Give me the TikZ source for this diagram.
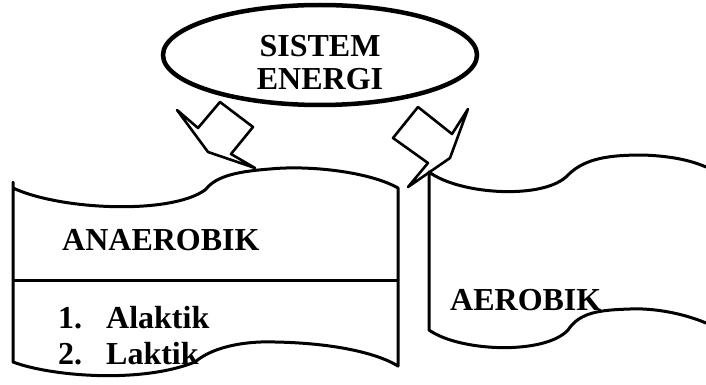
\documentclass[tikz,border=0pt]{standalone}
\usepackage{fontspec}
\setmainfont{Liberation Serif}
\usetikzlibrary{shapes.geometric}
\begin{document}
\begin{tikzpicture}[x=1pt,y=-1pt,
  outl/.style={line width=3pt,line join=round,line cap=round},
  lbl/.style={font=\fontsize{32}{36}\selectfont\bfseries,inner sep=0pt,anchor=base west},
  ctr/.style={font=\fontsize{32}{36}\selectfont\bfseries,inner sep=0pt,anchor=base}]
\useasboundingbox (0,0) rectangle (706,385);
% ellipse
\node[draw,line width=4.5pt,ellipse,minimum width=314pt,minimum height=100pt,inner sep=0pt] (sys) at (320,55) {};
\node[ctr] (t1) at (320,57) {SISTEM};
\node[ctr] (t2) at (320,90) {ENERGI};
% left arrow
\draw[outl,line width=2.6pt] (177,110) -- (198,128) -- (220,102) -- (253,127) -- (231,154) -- (255,168) -- (208,152) -- cycle;
% right arrow
\draw[outl,line width=2.6pt] (468,109) -- (452,134) -- (418,107) -- (393,138) -- (428,163) -- (408,187) -- (450,158) -- cycle;
% left banner
\draw[outl] (13,182) -- (13,362)
  .. controls (50,376) and (140,384) .. (195,362)
  .. controls (215,345) and (250,341) .. (275,342)
  .. controls (330,343) and (375,352) .. (398,366)
  -- (398,188)
  .. controls (370,172) and (310,165) .. (270,169)
  .. controls (230,172) and (215,178) .. (205,190)
  .. controls (170,215) and (60,210) .. (13,188);
\draw[line width=3pt] (13,280) -- (398,280);
% right banner
\draw[outl] (706,323)
  .. controls (680,312) and (650,308) .. (630,309)
  .. controls (600,310) and (580,312) .. (568,330)
  .. controls (545,355) and (460,352) .. (429,330)
  -- (429,172)
  .. controls (460,195) and (545,200) .. (568,175)
  .. controls (585,158) and (610,155) .. (643,155)
  .. controls (670,156) and (690,160) .. (706,167);
% texts
\node[lbl] (ana) at (62,250) {ANAEROBIK};
\node[lbl] (n1) at (58,328) {1.};
\node[lbl] (a1) at (106,328) {Alaktik};
\node[lbl] (n2) at (58,364) {2.};
\node[lbl] (a2) at (106,364) {Laktik};
\node[lbl] (aer) at (450,310) {AEROBIK};
\end{tikzpicture}
\end{document}
